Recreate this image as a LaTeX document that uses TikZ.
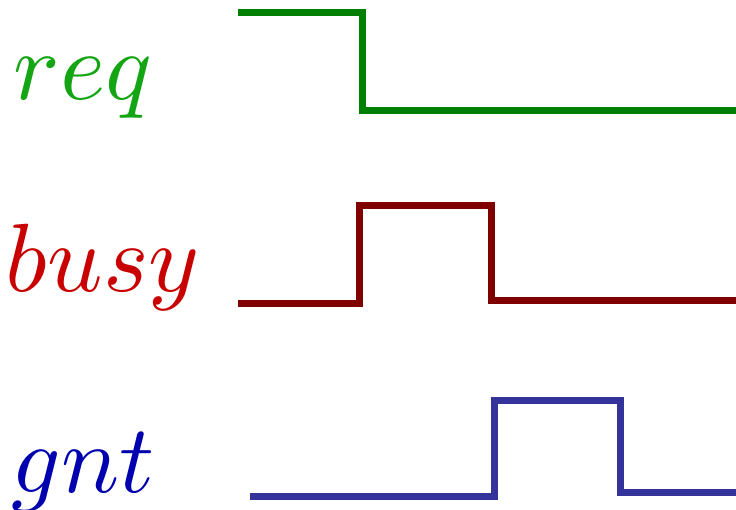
\documentclass[tikz,border=0pt]{standalone}
\usetikzlibrary{positioning}

\definecolor{reqline}{RGB}{0,128,0}
\definecolor{reqtext}{RGB}{20,165,20}
\definecolor{busyline}{RGB}{128,0,0}
\definecolor{busytext}{RGB}{200,0,0}
\definecolor{gntline}{RGB}{51,51,153}
\definecolor{gnttext}{RGB}{0,0,175}

\begin{document}
\begin{tikzpicture}[
    x=1pt, y=-1pt,
    signal/.style={line width=7pt, line join=miter},
    sig label/.style={anchor=base west, inner sep=0pt, scale=9.7}
]
    \useasboundingbox (0,0) rectangle (736,510);

    % Labels
    \node[sig label, text=reqtext] (lreq) at (12,100) {$req$};
    \node[sig label, text=busytext] (lbusy) at (4,292) {$busy$};
    \node[sig label, text=gnttext] (lgnt) at (10,492) {$gnt$};

    % Signals
    \draw[signal, reqline] (238,12.5) -- (362,12.5) -- (362,110.5) -- (736,110.5);
    \draw[signal, busyline] (238,304) -- (359,304) -- (359,205.5) -- (491.5,205.5)
        -- (491.5,301) -- (736,301);
    \draw[signal, gntline] (250,496) -- (494.5,496) -- (494.5,400) -- (620,400)
        -- (620,492) -- (736,492);
\end{tikzpicture}
\end{document}
